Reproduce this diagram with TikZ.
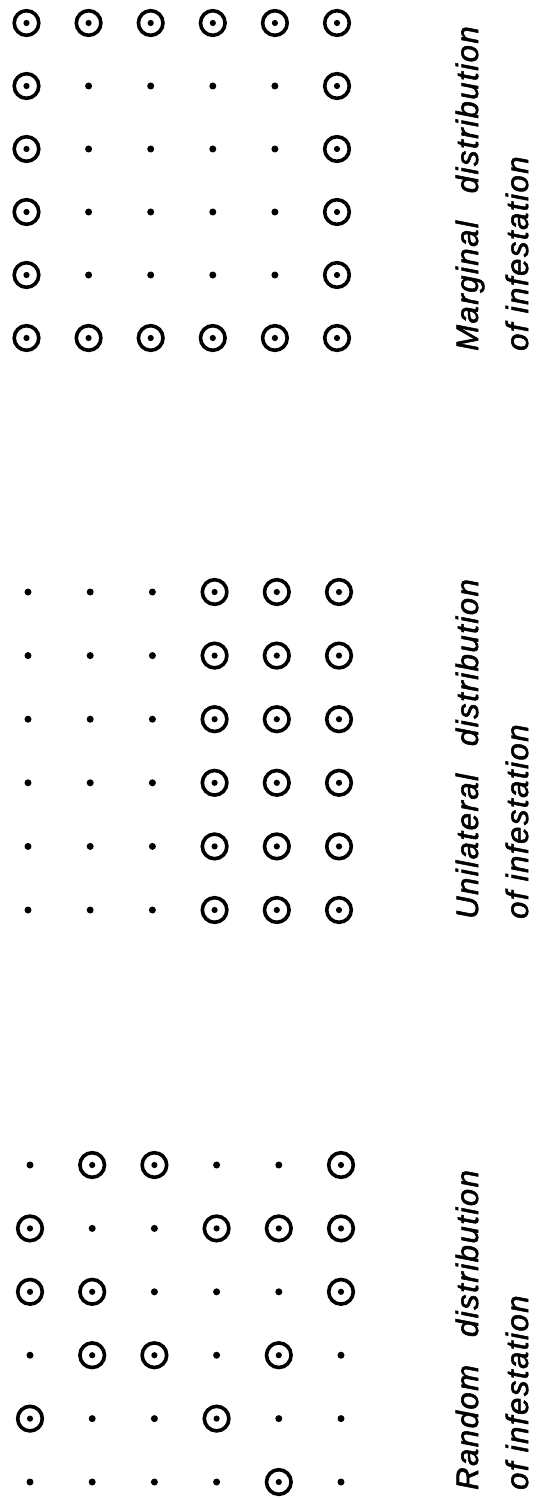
\documentclass[tikz,border=0pt]{standalone}
\usepackage{fontspec}
\setmainfont{Liberation Sans}
\newfontfamily\labfont[LetterSpace=5,FakeBold=1.8]{Liberation Sans}
\begin{document}
\begin{tikzpicture}[x=1pt,y=-1pt,
  s1/.style={circle, draw, line width=3.6pt, minimum size=24.6pt, inner sep=0pt,
    path picture={\fill (path picture bounding box.center) circle (3.1pt);}},
  s0/.style={circle, fill, minimum size=7pt, inner sep=0pt},
  lab/.style={rotate=90, anchor=base west, inner sep=0pt,
    font=\labfont\itshape\fontsize{31}{37}\selectfont}]
\useasboundingbox (0,0) rectangle (536,1498);
% Marginal
\foreach [count=\r] \rowlist in {{1,1,1,1,1,1},{1,0,0,0,0,1},{1,0,0,0,0,1},{1,0,0,0,0,1},{1,0,0,0,0,1},{1,1,1,1,1,1}}{
  \foreach [count=\c] \v in \rowlist {
    \node[s\v] (m-\r-\c) at ({26.5+(\c-1)*62.1},{23+(\r-1)*63}) {};
  }
}
% Unilateral
\foreach [count=\r] \rowlist in {{0,0,0,1,1,1},{0,0,0,1,1,1},{0,0,0,1,1,1},{0,0,0,1,1,1},{0,0,0,1,1,1},{0,0,0,1,1,1}}{
  \foreach [count=\c] \v in \rowlist {
    \node[s\v] (u-\r-\c) at ({28+(\c-1)*62.2},{592+(\r-1)*63.6}) {};
  }
}
% Random
\foreach [count=\r] \rowlist in {{0,1,1,0,0,1},{1,0,0,1,1,1},{1,1,0,0,0,1},{0,1,1,0,1,0},{1,0,0,1,0,0},{0,0,0,0,1,0}}{
  \foreach [count=\c] \v in \rowlist {
    \node[s\v] (r-\r-\c) at ({30+(\c-1)*62.2},{1165+(\r-1)*63.4}) {};
  }
}
% Labels
\node[lab] (ml1) at (478,351) {Marginal\hspace{0.9em}distribution};
\node[lab] (ml2) at (528,351) {of infestation};
\node[lab] (ul1) at (478,919) {Unilateral\hspace{0.9em}distribution};
\node[lab] (ul2) at (528,919) {of infestation};
\node[lab] (rl1) at (478,1490) {Random\hspace{0.9em}distribution};
\node[lab] (rl2) at (528,1490) {of infestation};
\end{tikzpicture}
\end{document}
